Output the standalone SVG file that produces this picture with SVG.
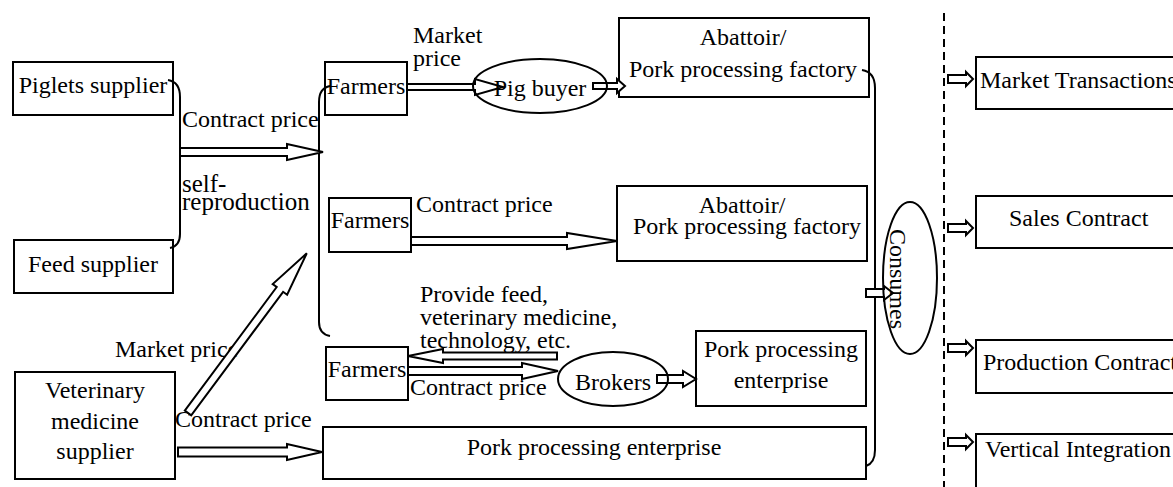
<svg xmlns="http://www.w3.org/2000/svg" width="1173" height="487" viewBox="0 0 1173 487">
<style>
.box{fill:#fff;stroke:#000;stroke-width:2}
.ell{fill:none;stroke:#000;stroke-width:2}
.t{font-family:"Liberation Serif","Times New Roman",serif;font-size:24px;fill:#000}
.m{text-anchor:middle}
.arr{fill:#fff;stroke:#000;stroke-width:2;stroke-linejoin:miter}
.ln{fill:none;stroke:#000;stroke-width:2}
.dash{fill:none;stroke:#000;stroke-width:2;stroke-dasharray:8,5}
</style>
<rect width="1173" height="487" fill="#fff"/>

<g id="piglets-supplier"><rect class="box" x="13" y="62" width="160" height="53"/><text class="t m" x="93" y="93">Piglets supplier</text></g>
<g id="feed-supplier"><rect class="box" x="14" y="240" width="159" height="53"/><text class="t m" x="93" y="272">Feed supplier</text></g>
<g id="vet-supplier"><rect class="box" x="15" y="372" width="160" height="107"/><text class="t m" x="95" y="398">Veterinary</text><text class="t m" x="95" y="429">medicine</text><text class="t m" x="95" y="459">supplier</text></g>
<g id="farmers1"><rect class="box" x="325" y="62" width="82" height="53"/><text class="t m" x="366" y="94">Farmers</text></g>
<g id="abattoir1"><rect class="box" x="619" y="18" width="250" height="79"/><text class="t m" x="743" y="45">Abattoir/</text><text class="t m" x="743" y="77">Pork processing factory</text></g>
<g id="farmers2"><rect class="box" x="329" y="198" width="82" height="54"/><text class="t m" x="370" y="228">Farmers</text></g>
<g id="abattoir2"><rect class="box" x="617" y="186" width="250" height="75"/><text class="t m" x="742" y="213">Abattoir/</text><text class="t m" x="747" y="234">Pork processing factory</text></g>
<g id="farmers3"><rect class="box" x="326" y="347" width="82" height="53"/><text class="t m" x="367" y="377">Farmers</text></g>
<g id="ppe-broker"><rect class="box" x="696" y="331" width="170" height="75"/><text class="t m" x="781" y="357">Pork processing</text><text class="t m" x="781" y="388">enterprise</text></g>
<g id="ppe-vertical"><rect class="box" x="323" y="427" width="543" height="52"/><text class="t m" x="594" y="455">Pork processing enterprise</text></g>

<g id="right-types">
<rect class="box" x="976" y="57" width="210" height="52"/><text class="t" x="980" y="88">Market Transactions</text>
<rect class="box" x="976" y="196" width="210" height="52"/><text class="t" x="1009" y="226">Sales Contract</text>
<rect class="box" x="976" y="340" width="210" height="53"/><text class="t" x="983" y="370">Production Contract</text>
<rect class="box" x="976" y="434" width="210" height="60"/><text class="t" x="985" y="457">Vertical Integration</text>
</g>

<g id="labels">
<text class="t" x="182" y="127">Contract price</text>
<text class="t" x="182" y="192" style="font-size:25px">self-</text>
<text class="t" x="182" y="210" style="font-size:25px">reproduction</text>
<text class="t" x="413" y="43">Market</text>
<text class="t" x="413" y="66">price</text>
<text class="t" x="416" y="212">Contract price</text>
<text class="t" x="420" y="302">Provide feed,</text>
<text class="t" x="420" y="325">veterinary medicine,</text>
<text class="t" x="420" y="348">technology, etc.</text>
<text class="t" x="410" y="395">Contract price</text>
<text class="t" x="115" y="357">Market price</text>
<text class="t" x="175" y="427">Contract price</text>
</g>

<g id="connectors">
<path class="ln" d="M168,80 Q180,82 180,97 L180,234 Q180,246 170,248"/>
<path class="ln" d="M330,86 Q319,88 319,102 L319,322 Q319,334 330,336"/>
<path class="ln" d="M862,70 Q875,72 875,88 L875,450 Q875,463 866,466"/>
<line class="dash" x1="944" y1="13" x2="944" y2="487"/>
<polygon class="arr" points="180,148 287,148 287,144 323,152 287,160 287,156 180,156"/>
<polygon class="arr" points="407,84 475,84 475,79 503,87 475,95 475,90 407,90"/>
<polygon class="arr" points="593,83 617,83 617,79 625,86 617,93 617,89 593,89"/>
<polygon class="arr" points="411,237 567,237 567,233 617,241 567,249 567,245 411,245"/>
<polygon class="arr" points="557,352.5 443,352.5 443,349 408,356 443,363 443,359.5 557,359.5"/>
<polygon class="arr" points="408,367 522,367 522,363 558,371 522,379 522,375 408,375"/>
<polygon class="arr" points="657,375 683,375 683,371 696,379 683,387 683,383 657,383"/>
<polygon class="arr" points="866,289 884,289 884,286 893,293 884,300 884,297 866,297"/>
<polygon class="arr" points="178,447.5 287,447.5 287,444 322,452 287,460 287,456.5 178,456.5"/>
<polygon class="arr" transform="translate(188,413) rotate(-53.36)" points="0,-4 154,-4 154,-9 199,0 154,9 154,4 0,4"/>
<polygon class="arr" points="948,75 966,75 966,72 973,79 966,86 966,83 948,83"/>
<polygon class="arr" points="948,224 966,224 966,221 973,228 966,235 966,232 948,232"/>
<polygon class="arr" points="948,344 966,344 966,341 973,348 966,355 966,352 948,352"/>
<polygon class="arr" points="948,438 966,438 966,435 973,442 966,449 966,446 948,446"/>
</g>

<g id="pig-buyer"><ellipse class="ell" cx="540" cy="86" rx="67" ry="27"/><text class="t m" x="540" y="96">Pig buyer</text></g>
<g id="brokers"><ellipse class="ell" cx="613" cy="379" rx="55" ry="27"/><text class="t m" x="613" y="390">Brokers</text></g>
<g id="consumes"><ellipse class="ell" cx="910" cy="278" rx="27" ry="76"/><text class="t m" transform="translate(898,279) rotate(90)" x="0" y="8">Consumes</text></g>
</svg>
